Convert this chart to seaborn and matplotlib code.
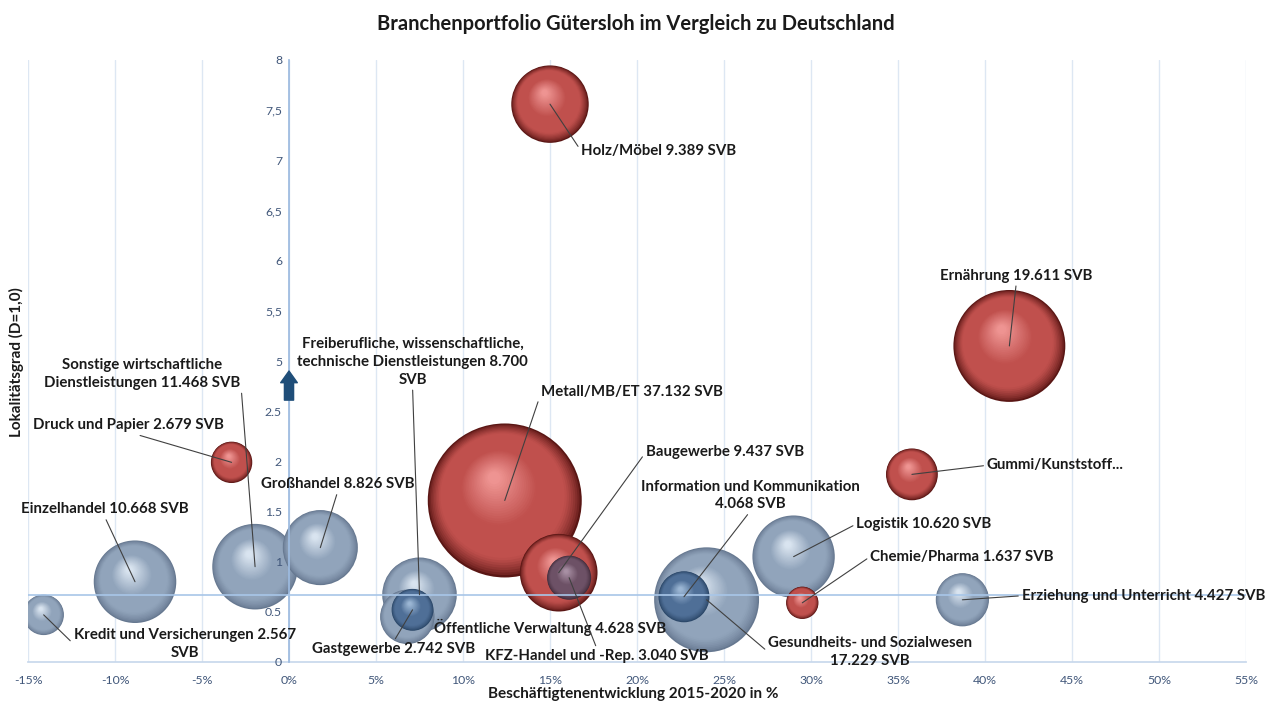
import numpy as np
import pandas as pd
import seaborn as sns
import matplotlib.pyplot as plt
from matplotlib.colors import to_rgb

# Branchen: Beschäftigtenentwicklung 2015-2020 (%), Lokalitätsgrad, SVB
sectors = ['Holz/Möbel', 'Ernährung', 'Gummi/Kunststoff', 'Druck und Papier',
           'Sonstige wirtschaftliche Dienstleistungen', 'Einzelhandel',
           'Kredit und Versicherungen', 'Großhandel',
           'Freiberufliche, wissenschaftliche, technische Dienstleistungen',
           'Öffentliche Verwaltung', 'Gastgewerbe', 'Metall/MB/ET', 'Baugewerbe',
           'KFZ-Handel und -Rep.', 'Gesundheits- und Sozialwesen',
           'Information und Kommunikation', 'Logistik', 'Chemie/Pharma',
           'Erziehung und Unterricht']
growth = [15.0, 41.4, 35.8, -3.3, -1.95, -8.85, -14.1, 1.8, 7.5, 6.8, 7.1,
          12.4, 15.5, 16.1, 24.0, 22.7, 29.0, 29.5, 38.7]
locality = [7.56, 5.15, 1.87, 1.99, 0.95, 0.80, 0.47, 1.14, 0.67, 0.45, 0.52,
            1.61, 0.89, 0.84, 0.62, 0.65, 1.05, 0.59, 0.62]
svb = [9389, 19611, 4200, 2679, 11468, 10668, 2567, 8826, 8700, 4628, 2742,
       37132, 9437, 3040, 17229, 4068, 10620, 1637, 4427]
group = ['red', 'red', 'red', 'red', 'grey', 'grey', 'grey', 'grey', 'grey',
         'grey', 'blue', 'red', 'red', 'purple', 'grey', 'blue', 'grey', 'red',
         'grey']

labels = ['Holz/Möbel 9.389 SVB', 'Ernährung 19.611 SVB', 'Gummi/Kunststoff...',
          'Druck und Papier 2.679 SVB',
          'Sonstige wirtschaftliche\nDienstleistungen 11.468 SVB',
          'Einzelhandel 10.668 SVB', 'Kredit und Versicherungen 2.567\nSVB',
          'Großhandel 8.826 SVB',
          'Freiberufliche, wissenschaftliche,\ntechnische Dienstleistungen 8.700\nSVB',
          'Öffentliche Verwaltung 4.628 SVB', 'Gastgewerbe 2.742 SVB',
          'Metall/MB/ET 37.132 SVB', 'Baugewerbe 9.437 SVB',
          'KFZ-Handel und -Rep. 3.040 SVB',
          'Gesundheits- und Sozialwesen\n17.229 SVB',
          'Information und Kommunikation\n4.068 SVB', 'Logistik 10.620 SVB',
          'Chemie/Pharma 1.637 SVB', 'Erziehung und Unterricht 4.427 SVB']

# label anchor positions in axis units (x in %, y on the broken axis),
# alignment and the point of the text box where the leader line starts
label_pos = [(16.8, 5.09, 'left', (0, 0.5)), (41.8, 3.85, 'center', (0.5, 0)),
             (40.1, 1.96, 'left', (0, 0.5)), (-9.2, 2.36, 'center', (0.5, 0)),
             (-8.45, 2.87, 'center', (1, 0.5)), (-10.6, 1.52, 'center', (0.5, 0)),
             (-6.0, 0.18, 'center', (0, 0.5)), (2.8, 1.77, 'center', (0.5, 0)),
             (7.1, 2.99, 'center', (0.5, 0)), (15.0, 0.34, 'center', (0.5, 0.5)),
             (6.0, 0.13, 'center', (0.5, 1)), (14.5, 2.69, 'left', (0, 0.5)),
             (20.5, 2.09, 'left', (0, 0.5)), (17.7, 0.06, 'center', (0.5, 1)),
             (33.4, 0.10, 'center', (0, 0.5)), (26.5, 1.66, 'center', (0.5, 0)),
             (32.6, 1.375, 'left', (0, 0.5)), (33.4, 1.05, 'left', (0, 0.5)),
             (42.1, 0.66, 'left', (0, 0.5))]
leader = [True] * len(sectors)
leader[sectors.index('Öffentliche Verwaltung')] = False

x_ticks = list(range(-15, 56, 5))
y_ticks = np.arange(0, 6.01, 0.5)
y_ticklabels = ['0', '0.5', '1', '1.5', '2', '2.5', '5', '5,5', '6', '6,5',
                '7', '7,5', '8']

shades = {
    'red': ('#5a1614', '#c0504d', '#ee9492'),
    'grey': ('#667890', '#91a4bb', '#d9e4f0'),
    'blue': ('#2a4667', '#4f6f97', '#9bb6d4'),
    'purple': ('#422d3c', '#6d5166', '#a890a4'),
}


def axis_y(v):
    # y axis is broken between 2.5 and 5
    return v if v <= 2.5 else v - 2.0


def mix(a, b, t):
    a, b = np.array(to_rgb(a)), np.array(to_rgb(b))
    return tuple(a + (b - a) * min(max(t, 0), 1))


sns.set_theme(style='white')
plt.rcParams['font.family'] = ['Lato', 'DejaVu Sans']

W, H, DPI = 1278, 702, 100
fig = plt.figure(figsize=(W / DPI, H / DPI), dpi=DPI)
ax = fig.add_axes([28 / W, 40 / H, 1218 / W, 602 / H])
ax.set_xlim(-15, 55)
ax.set_ylim(0, 6)
px_x = 1218 / 70
px_y = 602 / 6

# vertical gridlines drawn by hand so tick labels can stay above the bubbles
for xv in x_ticks:
    ax.axvline(xv, color='#dde7f3', lw=1, zorder=0)

df = pd.DataFrame({'sector': sectors, 'x': growth,
                   'y': [axis_y(v) for v in locality], 'svb': svb,
                   'group': group})
r_max = 77  # pixel radius of the largest bubble
df['r'] = r_max * np.sqrt(df['svb'] / df['svb'].max())

n = 40
for _, b in df.sort_values('svb', ascending=False).iterrows():
    edge, mid, light = shades[b['group']]
    rows = []
    for k in range(n):
        f = 1 - 0.94 * k / (n - 1)
        if f > 0.82:
            col = mix(edge, mid, ((1 - f) / 0.18) ** 0.7)
        elif f > 0.5:
            col = to_rgb(mid)
        else:
            col = mix(mid, light, (0.5 - f) / 0.42)
        r = b['r'] * f
        dx = -(1 - f) * 0.15 * b['r'] / px_x
        dy = (1 - f) * 0.32 * b['r'] / px_y
        rows.append((b['x'] + dx, b['y'] + dy, k, col, (2 * r * 72 / DPI) ** 2))
    layer = pd.DataFrame(rows, columns=['x', 'y', 'k', 'col', 's'])
    sns.scatterplot(data=layer, x='x', y='y', hue='k', size='k',
                    palette=dict(zip(layer['k'], layer['col'])),
                    sizes=dict(zip(layer['k'], layer['s'])),
                    linewidth=0, legend=False, ax=ax, zorder=1)

for i, row in df.iterrows():
    lx, ly, ha, rel = label_pos[i]
    props = None
    if leader[i]:
        props = dict(arrowstyle='-', color='#404040', lw=0.8, shrinkA=0,
                     shrinkB=0, relpos=rel)
    ax.annotate(labels[i], xy=(row['x'], row['y']), xytext=(lx, ly),
                ha=ha, va='center', fontsize=10.8, fontweight='bold',
                color='#1a1a1a', linespacing=1.35, arrowprops=props, zorder=10)

# axis styling
ax.set_xticks(x_ticks)
ax.set_xticklabels([f'{v}%' for v in x_ticks])
ax.set_yticks(y_ticks)
ax.set_yticklabels(y_ticklabels)
ax.tick_params(axis='both', length=0, labelsize=8.8, labelcolor='#41577a')
ax.tick_params(axis='x', pad=9)
ax.tick_params(axis='y', pad=5)
ax.grid(False)
ax.set_axisbelow(False)
ax.set_xlabel('')
ax.set_ylabel('')
for s in ['top', 'right']:
    ax.spines[s].set_visible(False)
ax.spines['left'].set_position(('data', 0))
ax.spines['left'].set_color('#9dbbe0')
ax.spines['left'].set_zorder(8)
ax.spines['bottom'].set_color('#c8d8ec')
ax.axhline(0.67, color='#a8c6e8', lw=1.2, zorder=9)

ax.annotate('', xy=(0, 2.9), xytext=(0, 2.61),
            arrowprops=dict(arrowstyle='simple,head_length=0.7,head_width=1.0,tail_width=0.55',
                            color='#1f4e79', mutation_scale=12, shrinkA=0, shrinkB=0),
            zorder=11)

fig.text(636 / W, 1 - 24 / H, 'Branchenportfolio Gütersloh im Vergleich zu Deutschland',
         ha='center', va='center', fontsize=14.5, fontweight='bold', color='#1a1a1a')
fig.text(633 / W, 1 - 694 / H, 'Beschäftigtenentwicklung 2015-2020 in %',
         ha='center', va='center', fontsize=11, fontweight='bold', color='#1a1a1a')
fig.text(16 / W, 1 - 362 / H, 'Lokalitätsgrad (D=1,0)', rotation=90,
         ha='center', va='center', fontsize=11, fontweight='bold', color='#1a1a1a')

fig.savefig('out.png', dpi=DPI, facecolor='white')
